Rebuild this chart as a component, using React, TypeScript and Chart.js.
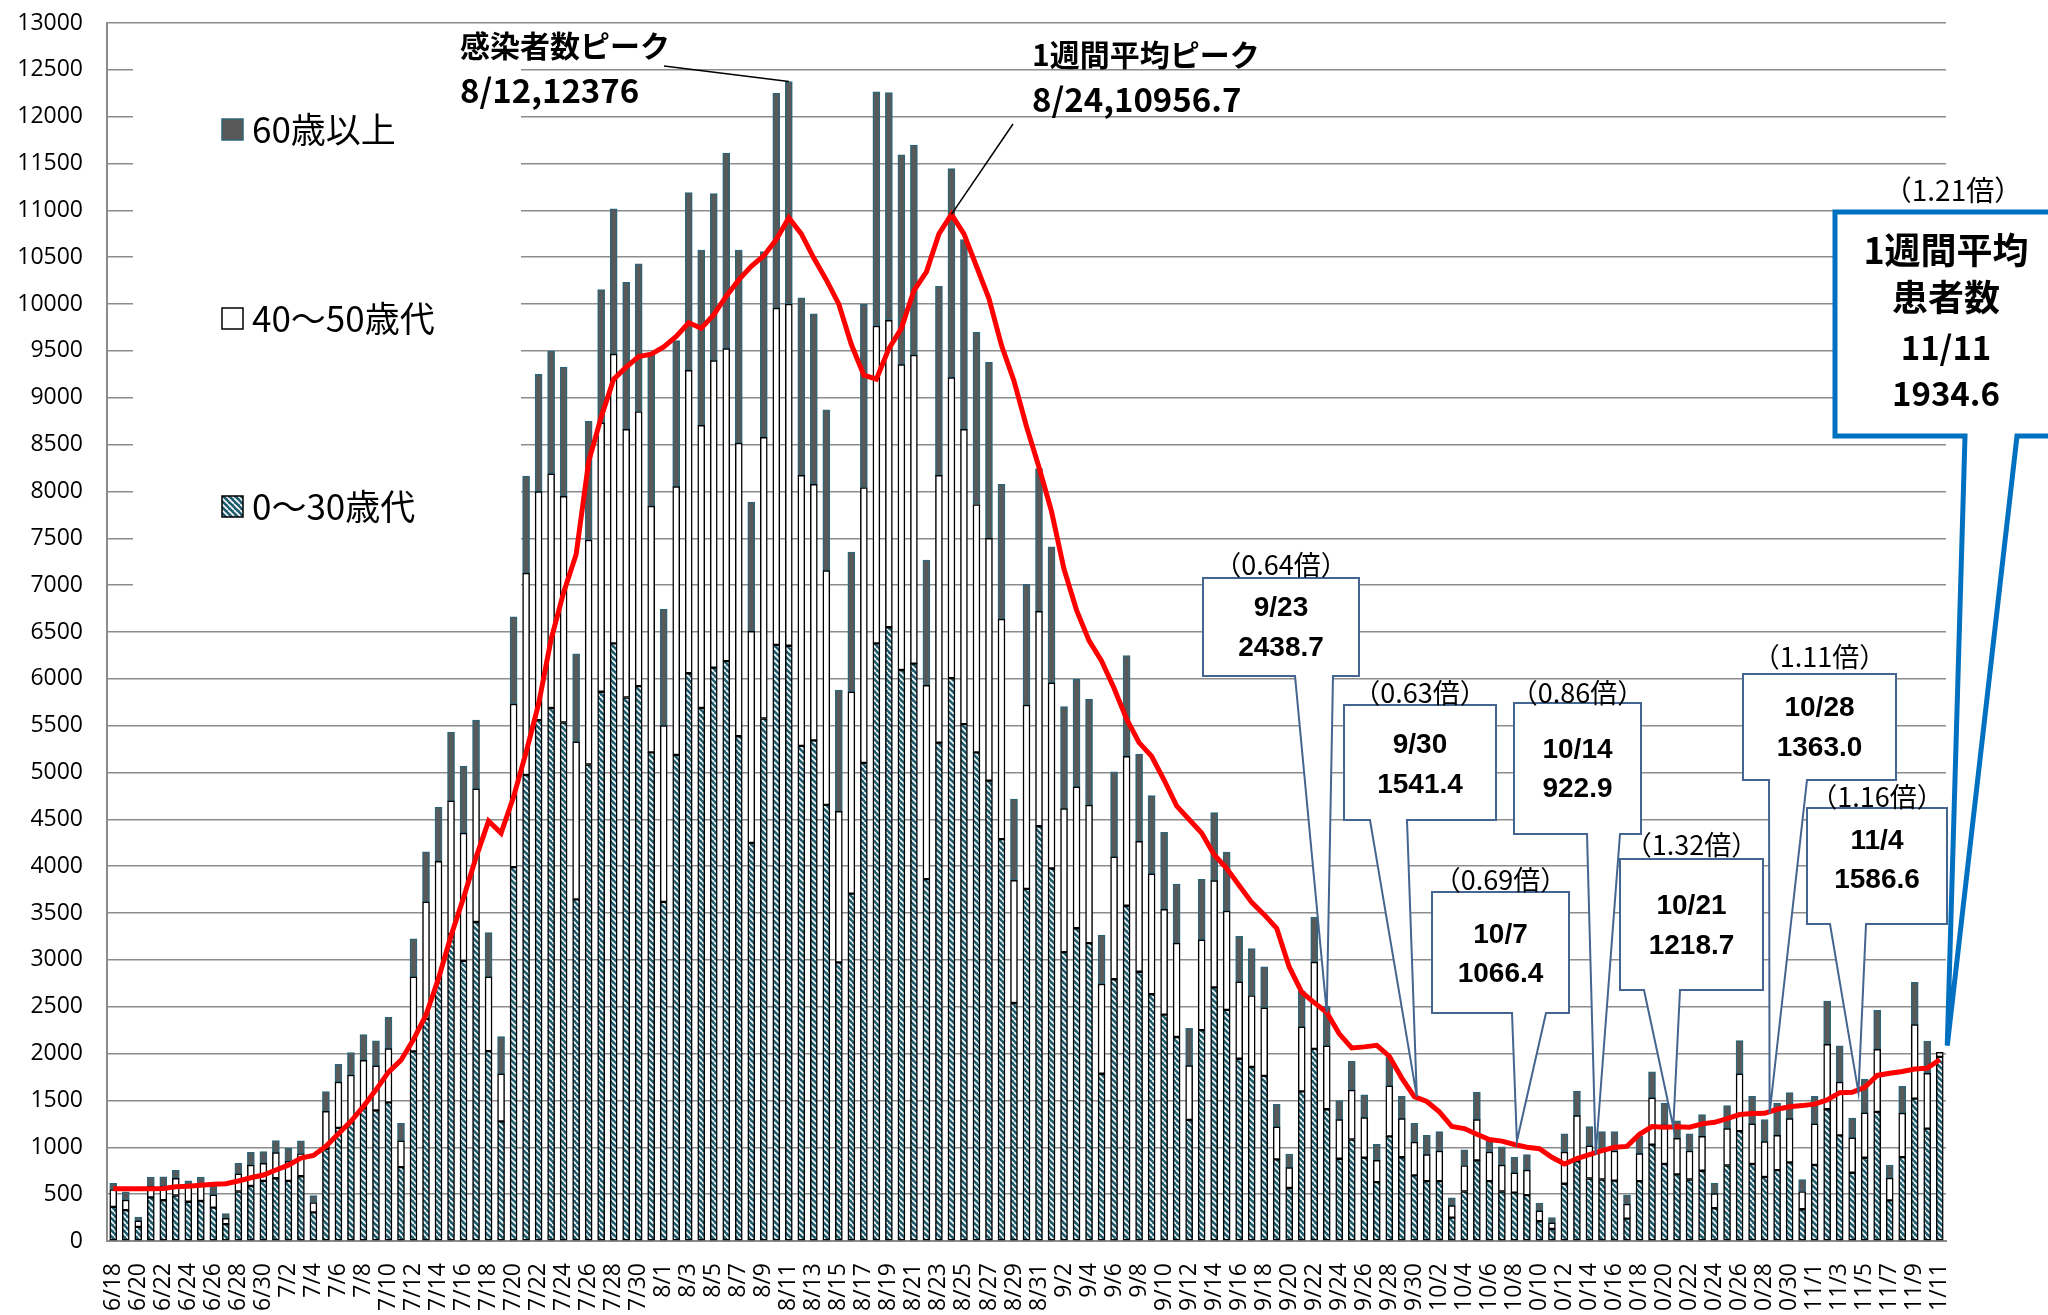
import React, { useEffect, useRef } from 'react';
import { Chart, registerables } from 'chart.js';

Chart.register(...registerables);

// ---------- data ----------
const dates = [
  '6/18','6/19','6/20','6/21','6/22','6/23','6/24','6/25','6/26','6/27','6/28','6/29','6/30',
  '7/1','7/2','7/3','7/4','7/5','7/6','7/7','7/8','7/9','7/10','7/11','7/12','7/13','7/14','7/15','7/16','7/17','7/18','7/19','7/20','7/21','7/22','7/23','7/24','7/25','7/26','7/27','7/28','7/29','7/30','7/31',
  '8/1','8/2','8/3','8/4','8/5','8/6','8/7','8/8','8/9','8/10','8/11','8/12','8/13','8/14','8/15','8/16','8/17','8/18','8/19','8/20','8/21','8/22','8/23','8/24','8/25','8/26','8/27','8/28','8/29','8/30','8/31',
  '9/1','9/2','9/3','9/4','9/5','9/6','9/7','9/8','9/9','9/10','9/11','9/12','9/13','9/14','9/15','9/16','9/17','9/18','9/19','9/20','9/21','9/22','9/23','9/24','9/25','9/26','9/27','9/28','9/29','9/30',
  '10/1','10/2','10/3','10/4','10/5','10/6','10/7','10/8','10/9','10/10','10/11','10/12','10/13','10/14','10/15','10/16','10/17','10/18','10/19','10/20','10/21','10/22','10/23','10/24','10/25','10/26','10/27','10/28','10/29','10/30','10/31',
  '11/1','11/2','11/3','11/4','11/5','11/6','11/7','11/8','11/9','11/10','11/11',
];

const age0to30 = [
  365, 330, 150, 465, 435, 486, 419, 427, 356, 180, 528, 587, 641,
  670, 641, 691, 306, 985, 1207, 1270, 1416, 1395, 1479, 788, 2024, 2370, 2801, 3276, 2991, 3405, 2026, 1276, 3991, 4974, 5560, 5689, 5534, 3646, 5086, 5862, 6379, 5801, 5922, 5215,
  3620, 5189, 6060, 5689, 6120, 6189, 5387, 4250, 5577, 6362, 6353, 5284, 5344, 4655, 2974, 3707, 5103, 6379, 6551, 6094, 6163, 3862, 5319, 6008, 5517, 5215, 4913, 4290, 2540, 3759, 4427,
  3977, 3084, 3338, 3179, 1785, 2794, 3578, 2874, 2634, 2417, 2177, 1292, 2250, 2707, 2467, 1945, 1858, 1763, 871, 566, 1597, 2050, 1406, 878, 1083, 889, 628, 1117, 894, 700,
  639, 639, 250, 528, 861, 639, 528, 517, 489, 211, 128, 611, 850, 667, 656, 644, 239, 639, 1028, 822, 711, 656, 750, 350, 806, 1172, 822, 683, 756, 839, 339,
  811, 1406, 1128, 728, 889, 1378, 433, 895, 1520, 1200, 1965,
];

const age40to50 = [
  185, 108, 64, 118, 150, 184, 159, 172, 138, 63, 188, 222, 189,
  273, 210, 243, 105, 398, 490, 502, 511, 474, 574, 280, 796, 1250, 1250, 1422, 1362, 1422, 793, 508, 1741, 2155, 2439, 2500, 2414, 1681, 2396, 2870, 3086, 2862, 2931, 2629,
  1880, 2862, 3232, 3017, 3276, 3336, 3129, 2258, 3000, 3594, 3646, 2888, 2733, 2500, 1612, 2155, 2939, 3387, 3276, 3259, 3293, 2069, 2853, 3207, 3146, 2646, 2586, 2347, 1310, 1960, 2293,
  1981, 1531, 1510, 1473, 958, 1306, 1596, 1393, 1285, 1124, 1002, 580, 965, 1139, 1053, 820, 762, 726, 348, 218, 689, 927, 677, 417, 528, 428, 233, 539, 412, 356,
  283, 322, 128, 278, 434, 311, 283, 211, 267, 111, 66, 339, 489, 350, 305, 317, 155, 294, 500, 417, 384, 305, 367, 156, 394, 611, 428, 378, 372, 467, 189,
  439, 694, 567, 372, 478, 667, 239, 470, 790, 590, 50,
];

const age60plus = [
  65, 86, 42, 96, 99, 84, 63, 84, 105, 50, 114, 138, 125,
  130, 138, 134, 75, 213, 189, 239, 277, 268, 335, 189, 406, 535, 578, 733, 716, 733, 474, 397, 931, 1034, 1250, 1310, 1379, 940, 1267, 1422, 1551, 1569, 1577, 1612,
  1241, 1560, 1897, 1871, 1784, 2086, 2061, 1379, 1983, 2293, 2377, 1896, 1819, 1715, 1293, 1491, 1957, 2500, 2431, 2241, 2241, 1336, 2017, 2232, 2026, 1837, 1879, 1440, 867, 1291, 1524,
  1451, 1089, 1146, 1132, 523, 907, 1074, 929, 834, 821, 631, 399, 646, 726, 631, 486, 501, 436, 240, 145, 385, 481, 423, 205, 306, 244, 172, 305, 239, 200,
  206, 206, 83, 166, 294, 133, 195, 166, 166, 84, 56, 195, 261, 205, 206, 206, 95, 184, 278, 233, 188, 184, 233, 111, 245, 356, 295, 234, 344, 277, 128,
  295, 461, 389, 211, 361, 416, 139, 285, 450, 345, 0,
];

const weeklyAvg = [
  557, 557, 557, 557, 560, 578, 585, 595, 605, 612, 641, 675, 704,
  758, 809, 884, 913, 1010, 1144, 1278, 1437, 1613, 1802, 1930, 2150, 2414, 2802, 3258, 3664, 4095, 4482, 4353, 4741, 5215, 5732, 6422, 6922, 7327, 8318, 8792, 9198, 9327, 9439, 9465,
  9543, 9654, 9801, 9741, 9887, 10085, 10258, 10404, 10516, 10689, 10922, 10749, 10491, 10258, 9999, 9568, 9241, 9198, 9525, 9741, 10145, 10344, 10749, 10956.7, 10749, 10404, 10059, 9560, 9180, 8694, 8258,
  7787, 7170, 6734, 6408, 6190, 5900, 5573, 5319, 5174, 4920, 4644, 4499, 4354, 4122, 3977, 3795, 3614, 3483, 3338, 2925, 2656, 2545, 2438.7, 2211, 2061, 2072, 2089, 1972, 1739, 1541.4,
  1489, 1378, 1222, 1200, 1139, 1083, 1066.4, 1030, 1000, 985, 894, 822, 880, 922.9, 965, 1000, 1010, 1139, 1222, 1215, 1218.7, 1215, 1250, 1267, 1306, 1350, 1361, 1363.0, 1406, 1433, 1445,
  1461, 1506, 1583, 1586.6, 1639, 1767, 1790, 1810, 1835, 1845, 1934.6,
];

const yMin = 0;
const yMax = 13000;
const yStep = 500;

const legendLabels = ['60歳以上', '40～50歳代', '0～30歳代'];

const peakCasesText = ['感染者数ピーク', '8/12,12376'];
const peakCasesDate = '8/11';
const peakCasesValue = 12376;
const peakAvgText = ['1週間平均ピーク', '8/24,10956.7'];
const peakAvgDate = '8/24';
const peakAvgValue = 10956.7;

const calloutDates = ['9/23', '9/30', '10/7', '10/14', '10/21', '10/28', '11/4'];
const calloutValues = ['2438.7', '1541.4', '1066.4', '922.9', '1218.7', '1363.0', '1586.6'];
const calloutRatios = ['（0.64倍）', '（0.63倍）', '（0.69倍）', '（0.86倍）', '（1.32倍）', '（1.11倍）', '（1.16倍）'];

const summaryLines = ['1週間平均', '患者数', '11/11', '1934.6'];
const summaryRatio = '（1.21倍）';
const summaryDate = '11/11';

// ---------- annotation layout (pixels) ----------
const calloutLayout = [
  { l: 1203, t: 578, r: 1359, b: 676, bl: 1295, br: 1333, shift: 0, y1: 608, y2: 648, ry: 565 },
  { l: 1344, t: 705, r: 1496, b: 820, bl: 1370, br: 1407, shift: 0.2, y1: 745, y2: 785, ry: 693 },
  { l: 1432, t: 892, r: 1569, b: 1013, bl: 1512, br: 1546, shift: 1.2, y1: 935, y2: 974, ry: 880 },
  { l: 1514, t: 703, r: 1641, b: 834, bl: 1587, br: 1620, shift: 0.5, y1: 750, y2: 789, ry: 693 },
  { l: 1620, t: 859, r: 1763, b: 990, bl: 1644, br: 1680, shift: -0.3, y1: 906, y2: 946, ry: 845 },
  { l: 1743, t: 674, r: 1896, b: 780, bl: 1769, br: 1807, shift: 0.4, y1: 708, y2: 748, ry: 657 },
  { l: 1807, t: 808, r: 1947, b: 924, bl: 1830, br: 1866, shift: 0.5, y1: 841, y2: 880, ry: 797 },
];
const summaryLayout = { l: 1835, t: 212, r: 2057, b: 436, bl: 1965, br: 2017, shift: 0.6, lift: 150, ys: [250, 297, 347, 393], ry: 190, cx: 1946 };

const TEAL = '#1f5d6e';
const DARK = '#595959';
const DARK_BORDER = '#2e6576';
const GRID = '#8c8c8c';
const CALLOUT_BORDER = '#44658f';
const JP = '"Noto Sans CJK JP", "Noto Sans", sans-serif';

function makeHatch(): CanvasPattern | string {
  const c = document.createElement('canvas');
  c.width = 6;
  c.height = 6;
  const g = c.getContext('2d');
  if (!g) return TEAL;
  g.fillStyle = TEAL;
  g.fillRect(0, 0, 6, 6);
  g.strokeStyle = '#ffffff';
  g.lineWidth = 1.6;
  g.beginPath();
  for (const o of [-6, 0, 6]) {
    g.moveTo(o, 0);
    g.lineTo(o + 6, 6);
  }
  g.stroke();
  return g.createPattern(c, 'repeat') || TEAL;
}

export default function App() {
  const ref = useRef<HTMLCanvasElement | null>(null);

  useEffect(() => {
    const canvas = ref.current;
    if (!canvas) return;
    const hatch = makeHatch();

    const xFor = (chart: any, idx: number) => {
      const a = chart.chartArea;
      const step = (a.right - a.left) / dates.length;
      return a.left + (idx + 0.5) * step;
    };
    const yFor = (chart: any, v: number) => chart.scales.y.getPixelForValue(v);

    const overlay = {
      id: 'overlay',
      beforeDatasetsDraw(chart: any) {
        const ctx = chart.ctx;
        ctx.save();
        ctx.fillStyle = '#ffffff';
        ctx.fillRect(133, 33, 521 - 133, 605 - 33);
        ctx.restore();
      },
      afterDatasetsDraw(chart: any) {
        const ctx: CanvasRenderingContext2D = chart.ctx;
        ctx.save();

        // legend
        const legendY = [130, 319, 507];
        const fills: (string | CanvasPattern)[] = [DARK, '#ffffff', hatch];
        const strokes = [DARK_BORDER, '#000000', '#000000'];
        legendLabels.forEach((lab, i) => {
          const y = legendY[i];
          ctx.fillStyle = fills[i] as any;
          ctx.fillRect(222, y - 11, 21, 21);
          ctx.strokeStyle = strokes[i];
          ctx.lineWidth = 1.5;
          ctx.strokeRect(222, y - 11, 21, 21);
          ctx.fillStyle = '#000';
          ctx.font = `35px ${JP}`;
          ctx.textAlign = 'left';
          ctx.textBaseline = 'middle';
          ctx.fillText(lab, 252, y);
        });

        // peak annotations
        ctx.strokeStyle = '#000';
        ctx.lineWidth = 1.5;
        const pci = dates.indexOf(peakCasesDate);
        ctx.beginPath();
        ctx.moveTo(664, 66);
        ctx.lineTo(xFor(chart, pci), yFor(chart, peakCasesValue));
        ctx.stroke();
        const pai = dates.indexOf(peakAvgDate);
        ctx.beginPath();
        ctx.moveTo(1013, 124);
        ctx.lineTo(xFor(chart, pai), yFor(chart, peakAvgValue));
        ctx.stroke();

        ctx.fillStyle = '#000';
        ctx.textAlign = 'left';
        ctx.textBaseline = 'middle';
        ctx.font = `bold 30px ${JP}`;
        ctx.fillText(peakCasesText[0], 460, 46);
        ctx.fillText(peakAvgText[0], 1032, 55);
        ctx.font = `bold 33px ${JP}`;
        ctx.fillText(peakCasesText[1], 460, 90);
        ctx.fillText(peakAvgText[1], 1032, 99);

        // callouts
        const drawCallout = (L: any, tipX: number, tipY: number, color: string, lw: number) => {
          ctx.beginPath();
          ctx.moveTo(L.l, L.t);
          ctx.lineTo(L.r, L.t);
          ctx.lineTo(L.r, L.b);
          ctx.lineTo(L.br, L.b);
          ctx.lineTo(tipX, tipY);
          ctx.lineTo(L.bl, L.b);
          ctx.lineTo(L.l, L.b);
          ctx.closePath();
          ctx.fillStyle = '#ffffff';
          ctx.fill();
          ctx.strokeStyle = color;
          ctx.lineWidth = lw;
          ctx.lineJoin = 'miter';
          ctx.stroke();
        };

        calloutDates.forEach((d, i) => {
          const L = calloutLayout[i];
          const idx = dates.indexOf(d);
          const tipX = xFor(chart, idx + L.shift);
          const tipY = yFor(chart, weeklyAvg[idx]);
          drawCallout(L, tipX, tipY, CALLOUT_BORDER, 2);
          const cx = (L.l + L.r) / 2;
          ctx.fillStyle = '#000';
          ctx.textAlign = 'center';
          ctx.textBaseline = 'middle';
          ctx.font = 'bold 28px "Liberation Sans", Arial, sans-serif';
          ctx.fillText(d, cx, L.y1);
          ctx.fillText(calloutValues[i], cx, L.y2);
          ctx.font = `27px ${JP}`;
          ctx.fillText(calloutRatios[i], cx, L.ry);
        });

        // summary (blue) callout
        const S = summaryLayout;
        const si = dates.indexOf(summaryDate);
        drawCallout(S, xFor(chart, si + S.shift), yFor(chart, weeklyAvg[si] + S.lift), '#0070c0', 5);
        ctx.fillStyle = '#000';
        ctx.textAlign = 'center';
        ctx.textBaseline = 'middle';
        ctx.font = `bold 36px ${JP}`;
        ctx.fillText(summaryLines[0], S.cx, S.ys[0]);
        ctx.fillText(summaryLines[1], S.cx, S.ys[1]);
        ctx.font = `bold 33px ${JP}`;
        ctx.fillText(summaryLines[2], S.cx, S.ys[2]);
        ctx.fillText(summaryLines[3], S.cx, S.ys[3]);
        ctx.font = `28px ${JP}`;
        ctx.fillText(summaryRatio, S.cx + 7, S.ry);

        ctx.restore();
      },
    };

    const barCommon = {
      type: 'bar' as const,
      borderWidth: 1.5,
      borderSkipped: false as any,
      barThickness: 7,
      stack: 'ages',
      order: 1,
    };

    const chart = new Chart(canvas, {
      data: {
        labels: dates,
        datasets: [
          { ...barCommon, label: '0～30歳代', data: age0to30, backgroundColor: hatch as any, borderColor: '#000000' },
          { ...barCommon, label: '40～50歳代', data: age40to50, backgroundColor: '#ffffff', borderColor: '#000000' },
          { ...barCommon, label: '60歳以上', data: age60plus, backgroundColor: DARK, borderColor: DARK_BORDER },
          {
            type: 'line',
            label: '1週間平均',
            data: weeklyAvg,
            borderColor: '#ff0000',
            backgroundColor: '#ff0000',
            borderWidth: 5,
            pointRadius: 0,
            tension: 0,
            stack: 'avg',
            order: 0,
          } as any,
        ],
      },
      options: {
        responsive: false,
        animation: false,
        devicePixelRatio: 1,
        layout: { padding: { top: 23, right: 102, bottom: 0, left: 0 } },
        plugins: { legend: { display: false }, tooltip: { enabled: false } },
        scales: {
          x: {
            stacked: true,
            grid: { display: false },
            border: { display: true, color: GRID, width: 2 },
            ticks: {
              autoSkip: false,
              maxRotation: 90,
              minRotation: 90,
              padding: 14,
              color: '#000',
              font: { family: '"Open Sans", "DejaVu Sans", sans-serif', size: 23 },
              callback: (_v: any, i: number) => (i % 2 === 0 ? dates[i] : ''),
            },
            afterFit: (s: any) => {
              s.height = 74;
            },
          },
          y: {
            stacked: true,
            min: yMin,
            max: yMax,
            grid: { color: GRID, lineWidth: 1.5, drawTicks: false },
            border: { display: true, color: GRID, width: 2 },
            ticks: {
              stepSize: yStep,
              padding: 24,
              color: '#000',
              font: { family: '"Open Sans", "DejaVu Sans", sans-serif', size: 23 },
              callback: (v: any) => String(v),
            },
            afterFit: (s: any) => {
              s.width = 107;
              s.paddingTop = 0;
              s.paddingBottom = 0;
            },
          },
        },
      } as any,
      plugins: [overlay],
    } as any);

    return () => chart.destroy();
  }, []);

  return (
    <div style={{ position: 'fixed', left: 0, top: 0, width: 2048, height: 1315, background: '#ffffff', overflow: 'hidden' }}>
      <canvas ref={ref} width={2048} height={1315} style={{ display: 'block', width: 2048, height: 1315 }} />
    </div>
  );
}
